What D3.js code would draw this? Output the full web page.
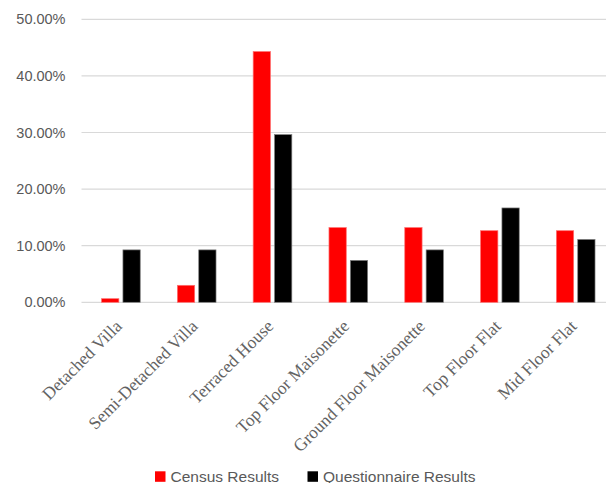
<!DOCTYPE html>
<html><head><meta charset="utf-8">
<script src="https://cdn.jsdelivr.net/npm/d3@7"></script>
<style>body{margin:0;background:#fff}</style>
</head><body>
<svg id="c" width="606" height="483"></svg>
<script>
const categories = ["Detached Villa","Semi-Detached Villa","Terraced House","Top Floor Maisonette","Ground Floor Maisonette","Top Floor Flat","Mid Floor Flat"];
const census = [0.0064,0.030,0.443,0.132,0.132,0.1265,0.1265];
const questionnaire = [0.0926,0.0926,0.2963,0.0741,0.0926,0.1667,0.1111];
const seriesNames = ["Census Results","Questionnaire Results"];
const seriesColors = ["#ff0000","#000000"];
const yTicks = [0,0.1,0.2,0.3,0.4,0.5];

(function(){
const svg = d3.select("#c");
const pl = 83, step = 75.8, pr = pl + 7*step, pt = 19.3, pb = 302.3;
const x = d3.scaleBand().domain(categories).range([pl,pr]).paddingInner(0.49).paddingOuter(0.245);
const xs = d3.scaleBand().domain(seriesNames).range([0,x.bandwidth()]).paddingInner(0.19);
const y = d3.scaleLinear().domain([0,0.5]).range([pb,pt]);

svg.append("g").selectAll("line").data(yTicks).join("line")
  .attr("x1",81.5).attr("x2",pr).attr("y1",d=>y(d)).attr("y2",d=>y(d))
  .attr("stroke","#d9d9d9").attr("stroke-width",1.2);

const yAxis = d3.axisLeft(y).tickValues(yTicks).tickFormat(d3.format(".2%")).tickSize(0).tickPadding(16);
const ya = svg.append("g").attr("transform",`translate(81.5,0)`).call(yAxis);
ya.select(".domain").remove();
ya.selectAll("text").attr("fill","#595959").style("font-family","Liberation Sans, Arial, sans-serif").style("font-size","14.5px");

const data = [census, questionnaire];
seriesNames.forEach((s,i)=>{
  svg.append("g").selectAll("rect").data(categories).join("rect")
    .attr("x",c=>x(c)+xs(s)).attr("width",xs.bandwidth())
    .attr("y",(c,j)=>y(data[i][j])).attr("height",(c,j)=>pb-y(data[i][j]))
    .attr("fill",seriesColors[i]).attr("stroke", i===0?"#ff7070":"#808080").attr("stroke-width",0.7);
});

const xg = svg.append("g");
xg.selectAll("text").data(categories).join("text")
  .attr("transform",c=>`translate(${x(c)+x.bandwidth()/2+2},${pb+25}) rotate(-45)`)
  .attr("text-anchor","end")
  .attr("fill","#636363")
  .style("font-family","Liberation Serif, Times New Roman, serif")
  .style("font-size","17.5px")
  .text(c=>c);

const leg = svg.append("g");
const legX = [155, 307.5];
seriesNames.forEach((s,i)=>{
  leg.append("rect").attr("x",legX[i]).attr("y",471.3).attr("width",10.5).attr("height",10.5).attr("fill",seriesColors[i]);
  leg.append("text").attr("x",legX[i]+15.5).attr("y",481.5).attr("fill","#595959")
    .style("font-family","Liberation Sans, Arial, sans-serif").style("font-size","15.5px").text(s);
});
})();
</script>
</body></html>
